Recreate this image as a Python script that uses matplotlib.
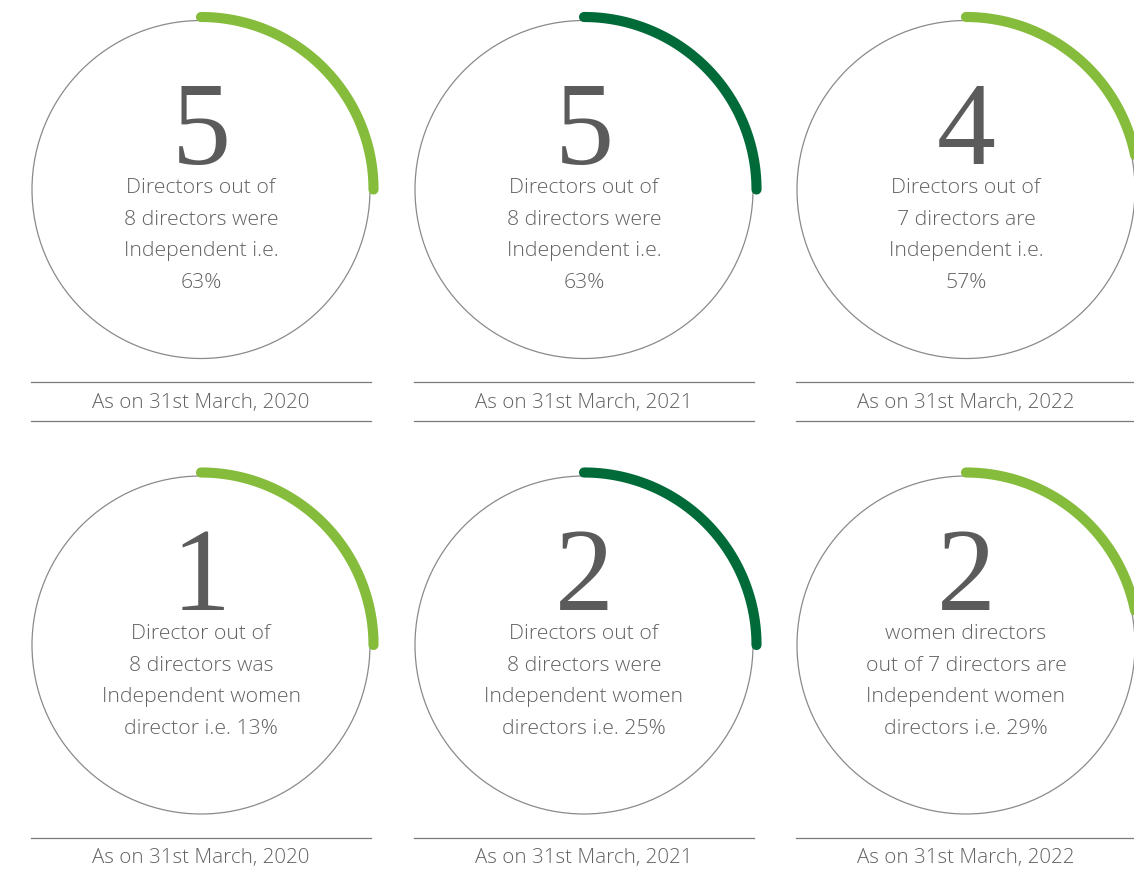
import numpy as np
import matplotlib
matplotlib.use("Agg")
import matplotlib.pyplot as plt
from matplotlib.patches import Circle

# Board composition figures
counts = [5, 5, 4, 1, 2, 2]
descriptions = [
    "Directors out of\n8 directors were\nIndependent i.e.\n63%",
    "Directors out of\n8 directors were\nIndependent i.e.\n63%",
    "Directors out of\n7 directors are\nIndependent i.e.\n57%",
    "Director out of\n8 directors was\nIndependent women\ndirector i.e. 13%",
    "Directors out of\n8 directors were\nIndependent women\ndirectors i.e. 25%",
    "women directors\nout of 7 directors are\nIndependent women\ndirectors i.e. 29%",
]
dates = ["As on 31st March, 2020", "As on 31st March, 2021", "As on 31st March, 2022"] * 2
arc_colors = ["#86bc3b", "#006b38", "#86bc3b"] * 2

W, H, DPI = 1134, 872, 100
fig = plt.figure(figsize=(W / DPI, H / DPI), dpi=DPI)
ax = fig.add_axes([0, 0, 1, 1])
ax.set_xlim(0, W)
ax.set_ylim(H, 0)
ax.set_aspect("equal")
ax.axis("off")

col_x = [201, 584, 966]
row_y = [189.5, 645]
radius = 169
arc_radius = 172.5
text_gray = "#626262"
num_gray = "#5b5b5b"
line_gray = "#7a7a7a"
body_font = ["Open Sans", "DejaVu Sans"]

for i, (n, desc, date, col) in enumerate(zip(counts, descriptions, dates, arc_colors)):
    cx = col_x[i % 3]
    cy = row_y[i // 3]
    shift = 0 if i < 3 else -9.5

    ax.add_patch(Circle((cx, cy), radius, fill=False, edgecolor="#8a8a8a", lw=0.9))

    theta = np.linspace(np.pi / 2, 0, 120)
    ax.plot(cx + arc_radius * np.cos(theta), cy - arc_radius * np.sin(theta),
            color=col, lw=7.3, solid_capstyle="round")

    ax.text(cx, cy - 25.5 + shift, str(n), ha="center", va="baseline",
            fontsize=85, family="Liberation Serif", color=num_gray)

    ax.text(cx, cy + 46 + shift, desc, ha="center", va="center",
            fontsize=15.3, family=body_font, fontweight="light",
            color=text_gray, linespacing=1.77)

    ly = cy + 193
    ax.plot([cx - 170, cx + 170], [ly, ly], color=line_gray, lw=0.9)
    ax.plot([cx - 170, cx + 170], [ly + 38, ly + 38], color=line_gray, lw=0.9)
    ax.text(cx, ly + 20, date, ha="center", va="center",
            fontsize=14.8, family=body_font, fontweight="light", color=text_gray)

fig.savefig("out.png", dpi=DPI, facecolor="white")
